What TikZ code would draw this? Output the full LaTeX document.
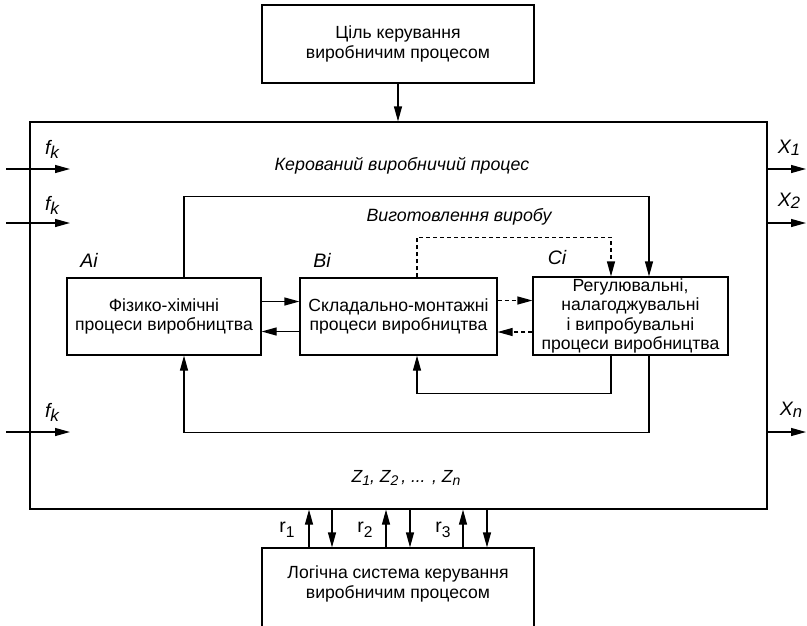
\documentclass[tikz,border=0pt]{standalone}
\usepackage{fontspec}
\usepackage{graphicx}
\setmainfont{Liberation Sans}
\usetikzlibrary{arrows.meta}
% index set slightly below the base line, a little smaller
\newcommand\lsub[3][0.35ex]{\raisebox{-#1}{\scalebox{#2}{#3}}}
\begin{document}
\begin{tikzpicture}[x=1pt,y=-1pt,
  line width=1.2pt,
  tip/.style={-{Triangle[length=15pt,width=8pt]}},
  dsh/.style={dash pattern=on 4pt off 3pt},
  box/.style={draw,inner sep=0pt,align=center,font=\fontsize{17.6}{19.5}\selectfont},
  frame/.style={draw,inner sep=0pt},
  txt/.style={align=center,font=\fontsize{17.6}{19.5}\selectfont},
  ital/.style={font=\fontsize{17.8}{20}\selectfont\itshape},
  lbl/.style={font=\fontsize{19.5}{20}\selectfont\itshape},
  sig/.style={font=\fontsize{19.5}{20}\selectfont}]
\useasboundingbox (0,0) rectangle (807,625);
\clip (0,0) rectangle (807,625);

% blocks
\node[box,minimum width=272pt,minimum height=78pt] (T) at (398,44) {Ціль керування\\виробничим процесом};
\node[frame,minimum width=737pt,minimum height=387pt] (O) at (398.5,315.5) {};
\node[box,minimum width=194pt,minimum height=77pt] (A) at (164,316.5) {Фізико-хімічні\\процеси виробництва};
\node[box,minimum width=197pt,minimum height=77pt] (B) at (398.5,316.5) {Складально-монтажні\\процеси виробництва};
\node[box,minimum width=195pt,minimum height=78pt] (C) at (630.5,316) {Регулювальні,\\налагоджувальні\\і випробувальні\\процеси виробництва};
\node[frame,minimum width=272pt,minimum height=92pt] (L) at (398,594) {};
\node[txt] (Ltxt) at (398,584) {Логічна система керування\\виробничим процесом};

% captions
\node[ital] (title) at (402,166) {Керований виробничий процес};
\node[ital] (make) at (459,217) {Виготовлення виробу};
\node[lbl] (Ai) at (89,260) {Ai};
\node[lbl] (Bi) at (322,260) {Bi};
\node[lbl] (Ci) at (557,258) {Ci};
\node[font=\fontsize{17.5}{18}\selectfont\itshape] (Z) at (406,478) {Z\lsub{0.8}{1}, Z\lsub{0.8}{2}\,, ... , Z\lsub{0.8}{n}};

% goal -> process
\draw[tip] (T.south) -- (T.south |- O.north);

% links between stages
\draw[tip] ([yshift=15pt]A.east) -- ([yshift=15pt]A.east -| B.west);
\draw[tip] ([yshift=-15pt]B.west) -- ([yshift=-15pt]B.west -| A.east);
\draw[tip,dsh] ([yshift=16pt]B.east) -- ([yshift=16pt]B.east -| C.west);
\draw[tip,dsh] ([yshift=-16pt]C.west) -- ([yshift=-16pt]C.west -| B.east);
\draw[tip] ([xshift=20pt]A.north) -- ++(0,-81) -| ([xshift=18.5pt]C.north);
\draw[tip,dsh] ([xshift=18.5pt]B.north) -- ++(0,-40) -| ([xshift=-19.5pt]C.north);
\draw[tip] ([xshift=-19.5pt]C.south) -- ++(0,38) -| ([xshift=18.5pt]B.south);
\draw[tip] ([xshift=18.5pt]C.south) -- ++(0,77) -| ([xshift=20pt]A.south);

% disturbances in
\coordinate (f1) at (6,169);  \coordinate (f1e) at (70,169);
\coordinate (f2) at (6,223);  \coordinate (f2e) at (70,223);
\coordinate (f3) at (6,432);  \coordinate (f3e) at (70,432);
\draw[tip] (f1) -- (f1e);
\draw[tip] (f2) -- (f2e);
\draw[tip] (f3) -- (f3e);
\node[lbl] (fk1) at (52,149) {f\lsub[0.4ex]{0.88}{k}};
\node[lbl] (fk2) at (52,205) {f\lsub[0.4ex]{0.88}{k}};
\node[lbl] (fk3) at (52,412) {f\lsub[0.4ex]{0.88}{k}};

% outputs
\coordinate (x1) at (806,169);
\coordinate (x2) at (806,223);
\coordinate (xn) at (806,432);
\draw[tip] (x1 -| O.east) -- (x1);
\draw[tip] (x2 -| O.east) -- (x2);
\draw[tip] (xn -| O.east) -- (xn);
\node[lbl] (X1) at (789,148) {X\lsub[0.15ex]{0.85}{1}};
\node[lbl] (X2) at (789,201) {X\lsub[0.15ex]{0.85}{2}};
\node[lbl] (Xn) at (791,410) {X\lsub[0.15ex]{0.85}{n}};

% exchange with the logic control system
\coordinate (p1) at (309,0); \coordinate (p2) at (332,0);
\coordinate (p3) at (386,0); \coordinate (p4) at (410,0);
\coordinate (p5) at (463,0); \coordinate (p6) at (487,0);
\draw[tip] (L.north -| p1) -- (O.south -| p1);
\draw[tip] (O.south -| p2) -- (L.north -| p2);
\draw[tip] (L.north -| p3) -- (O.south -| p3);
\draw[tip] (O.south -| p4) -- (L.north -| p4);
\draw[tip] (L.north -| p5) -- (O.south -| p5);
\draw[tip] (O.south -| p6) -- (L.north -| p6);
\node[sig] (r1) at (287,530) {r\lsub[0.5ex]{0.8}{1}};
\node[sig] (r2) at (365,530) {r\lsub[0.5ex]{0.8}{2}};
\node[sig] (r3) at (443,530) {r\lsub[0.5ex]{0.8}{3}};
\end{tikzpicture}
\end{document}
